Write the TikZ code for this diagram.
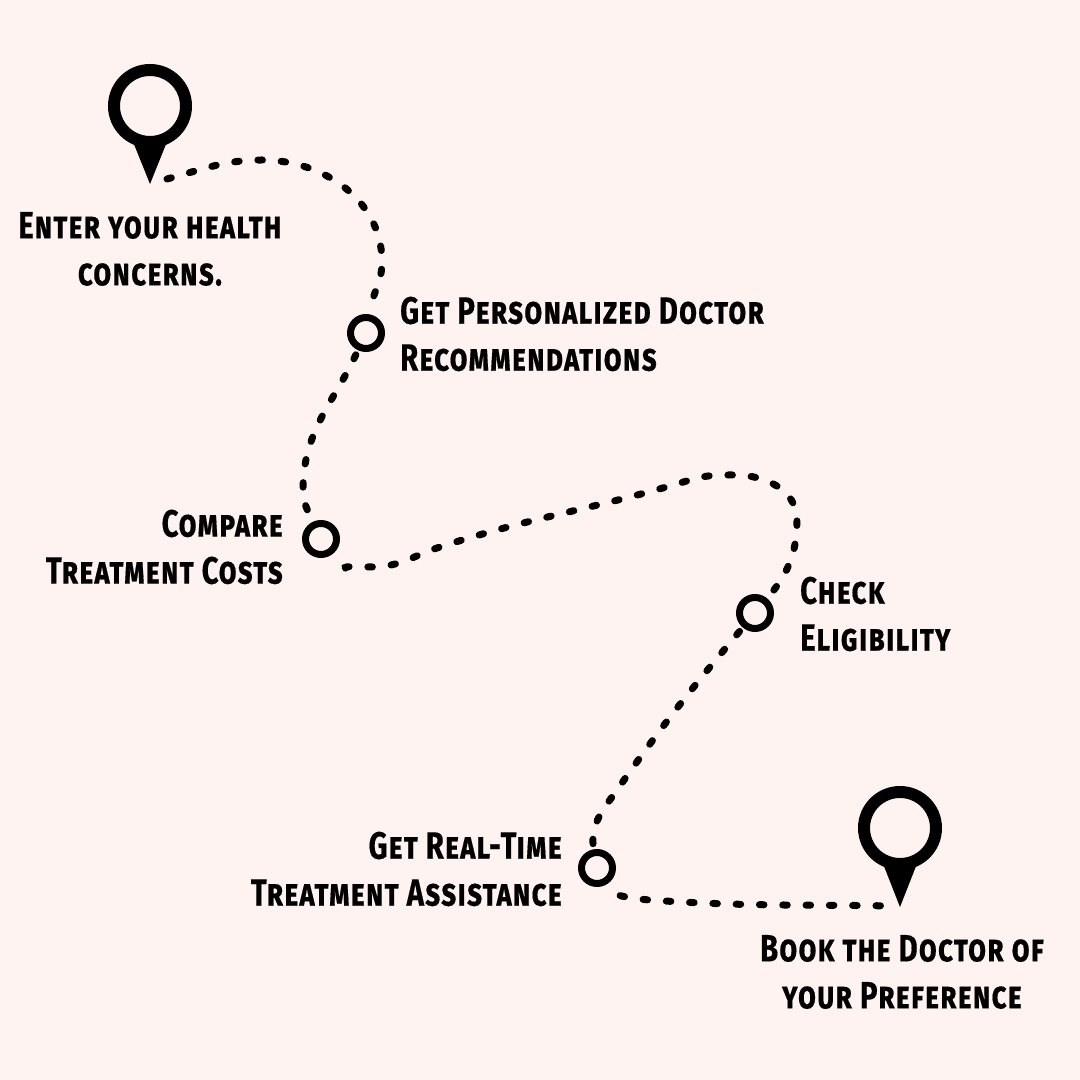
\documentclass[tikz,border=0pt]{standalone}
\usepackage{fontspec}
\setmainfont{Fira Sans}
\newfontfamily\labelfont[Letters=SmallCaps,FakeStretch=0.77,LetterSpace=3,FakeBold=0.4]{Fira Sans}
\usetikzlibrary{positioning}
\definecolor{pagepink}{HTML}{FFF3F1}
\tikzset{
  pinhead/.style={circle,draw=black,line width=12pt,minimum size=72pt,inner sep=0pt},
  stopdot/.style={circle,draw=black,line width=7pt,minimum size=31pt,inner sep=0pt},
  trail/.style={line width=7pt,line cap=round,dash pattern=on 4.5pt off 18.8pt},
  steplabel/.style={font=\labelfont\bfseries\fontsize{38}{47}\selectfont,inner sep=0pt}
}

\begin{document}
\begin{tikzpicture}[x=1pt,y=1pt]
  \fill[pagepink,use as bounding box] (0,0) rectangle (1080,1080);
  \node[pinhead] (pin_a) at (150,974) {};
  \node[pinhead] (pin_b) at (900,252) {};
  \coordinate (tip_a) at (150,896);
  \coordinate (tip_b) at (900,173);
  \fill (pin_a.-112) -- (tip_a) -- (pin_a.-68) -- cycle;
  \fill (pin_b.-112) -- (tip_b) -- (pin_b.-68) -- cycle;
  \node[stopdot] (dot_1) at (366,747) {};
  \node[stopdot] (dot_2) at (321,541) {};
  \node[stopdot] (dot_3) at (755,467) {};
  \node[stopdot] (dot_4) at (597,212) {};
  \node[steplabel,align=center] (enter) at (150,831) {Enter your health\\concerns.};
  \node[steplabel,align=left] (match) [right=15pt of dot_1,yshift=-1pt] {Get Personalized Doctor\\Recommendations};
  \node[steplabel,align=right] (costs) [left=19pt of dot_2,yshift=-8pt] {Compare\\Treatment Costs};
  \node[steplabel,align=left] (check) [right=26pt of dot_3,yshift=-1pt] {Check\\Eligibility};
  \node[steplabel,align=right] (assist) [left=16pt of dot_4,yshift=-1pt] {Get Real-Time\\Treatment Assistance};
  \node[steplabel,align=center] (book) at (902,108) {Book the Doctor of\\your Preference};
  \coordinate (start_a) at (167,901);
  \coordinate (a_top) at (262,920);
  \coordinate (a_side) at (382,818);
  \coordinate (b_side) at (303,590);
  \coordinate (c_low) at (372,513);
  \coordinate (c_flat) at (440,533);
  \coordinate (c_rise) at (690,600);
  \coordinate (c_top) at (735,605);
  \coordinate (c_side) at (797,560);
  \coordinate (d_mid) at (617,290);
  \coordinate (e_low) at (650,180);
  \coordinate (end_b) at (893,174);
  \path[trail,draw]
    (start_a) to[out=15,in=180] (a_top) to[out=0,in=90] (a_side) to[out=-90,in=75] ([xshift=5pt,yshift=9pt]dot_1.north);
  \draw[trail,shorten <=5pt] (dot_1) to[out=-115,in=90] (b_side) to[out=-90,in=115] (dot_2);
  \draw[trail,shorten <=19pt] (dot_2) to[out=-50,in=180] (c_low) to[out=0,in=198] (c_flat) to[out=18,in=197] (c_rise)
    to[out=17,in=180] (c_top) to[out=0,in=90] (c_side) to[out=-90,in=50] (dot_3);
  \draw[trail,shorten <=5pt] (dot_3) to[out=-130,in=55] (d_mid) to[out=-125,in=100] (dot_4);
  \draw[trail,shorten <=17pt] (dot_4) to[out=-50,in=176] (e_low) to[out=-4,in=179] (end_b);
\end{tikzpicture}
\end{document}
